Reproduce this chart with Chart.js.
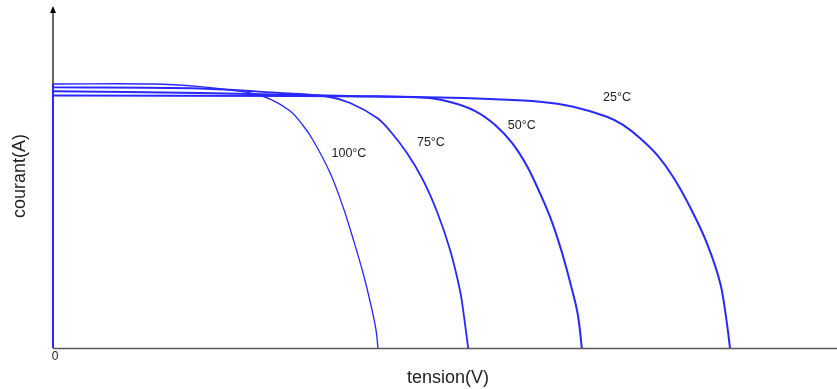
<!DOCTYPE html>
<html>
<head>
<meta charset="utf-8">
<script src="https://cdn.jsdelivr.net/npm/chart.js@4.4.1/dist/chart.umd.min.js"></script>
<style>
    html, body { margin: 0; padding: 0; background: #fff; }
    #wrap { width: 837px; height: 389px; position: relative; }
</style>
</head>
<body>
<div id="wrap"><canvas id="ivChart"></canvas></div>
<script>
// I-V curves (tension in V, courant in A)
const curveNames = ['25°C', '50°C', '75°C', '100°C'];

const volts25 = [0, 6.30, 9.87, 11.15, 12.42, 13.27, 14.13, 14.54, 14.97, 15.41, 15.82, 16.25, 16.68, 17.02, 17.18, 17.27];
const amps25  = [2.97, 2.965, 2.947, 2.929, 2.898, 2.839, 2.721, 2.624, 2.471, 2.271, 2.012, 1.659, 1.235, 0.765, 0.329, 0];

const volts50 = [0, 3.75, 7.58, 9.44, 10.13, 10.77, 11.28, 11.71, 12.09, 12.42, 12.73, 12.98, 13.21, 13.39, 13.49];
const amps50  = [3.02, 3.0, 2.965, 2.947, 2.894, 2.788, 2.624, 2.412, 2.141, 1.824, 1.482, 1.129, 0.741, 0.388, 0];

const volts75 = [0, 3.75, 5.79, 6.99, 7.58, 8.27, 8.60, 9.03, 9.44, 9.80, 10.13, 10.38, 10.48, 10.59];
const amps75  = [3.067, 3.053, 3.0, 2.959, 2.882, 2.706, 2.553, 2.294, 1.976, 1.6, 1.153, 0.682, 0.388, 0];

const volts100 = [0, 2.55, 3.75, 4.52, 5.03, 5.54, 6.05, 6.35, 6.63, 7.07, 7.40, 7.68, 7.91, 8.11, 8.24, 8.29];
const amps100  = [3.106, 3.106, 3.076, 3.035, 3.0, 2.929, 2.788, 2.635, 2.447, 2.059, 1.659, 1.247, 0.882, 0.506, 0.212, 0];

// where each curve name sits (same units as the axes)
const labelVolts = [14.39, 11.96, 9.64, 7.55];
const labelAmps  = [2.95, 2.62, 2.42, 2.29];

const xMax = 20;
const yMax = 4;

function toPoints(xs, ys) {
    return xs.map((x, i) => ({ x: x, y: ys[i] }));
}

const seriesList = [
    toPoints(volts25, amps25),
    toPoints(volts50, amps50),
    toPoints(volts75, amps75),
    toPoints(volts100, amps100)
];
const lineWidths = [2, 2, 1.8, 1.3];

const axesPlugin = {
    id: 'axesPlugin',
    beforeDatasetsDraw(chart) {
        const ctx = chart.ctx;
        const xs = chart.scales.x;
        const ys = chart.scales.y;
        const x0 = xs.getPixelForValue(0);
        const y0 = ys.getPixelForValue(0);
        const top = chart.chartArea.top;

        ctx.save();
        // x axis
        ctx.strokeStyle = '#5a5a5a';
        ctx.lineWidth = 1.5;
        ctx.beginPath();
        ctx.moveTo(x0, y0 + 0.5);
        ctx.lineTo(chart.width, y0 + 0.5);
        ctx.stroke();

        // y axis with arrow
        ctx.strokeStyle = '#000';
        ctx.lineWidth = 1.2;
        ctx.beginPath();
        ctx.moveTo(x0, y0);
        ctx.lineTo(x0, top);
        ctx.stroke();
        ctx.fillStyle = '#000';
        ctx.beginPath();
        ctx.moveTo(x0, top - 2);
        ctx.lineTo(x0 - 3, top + 5);
        ctx.lineTo(x0 + 3, top + 5);
        ctx.closePath();
        ctx.fill();

        // vertical part of the curves at V = 0
        const iscMax = Math.max(amps25[0], amps50[0], amps75[0], amps100[0]);
        ctx.strokeStyle = 'rgb(40,40,255)';
        ctx.lineWidth = 2;
        ctx.beginPath();
        ctx.moveTo(x0, y0);
        ctx.lineTo(x0, ys.getPixelForValue(iscMax));
        ctx.stroke();
        ctx.restore();
    },
    afterDatasetsDraw(chart) {
        const ctx = chart.ctx;
        const xs = chart.scales.x;
        const ys = chart.scales.y;
        const x0 = xs.getPixelForValue(0);
        const y0 = ys.getPixelForValue(0);

        ctx.save();
        ctx.fillStyle = '#222';
        ctx.textAlign = 'center';
        ctx.textBaseline = 'middle';

        ctx.font = '12px "Liberation Sans", Arial, sans-serif';
        ctx.fillText('0', x0 + 2, y0 + 9);

        ctx.font = '12.5px "Liberation Sans", Arial, sans-serif';
        curveNames.forEach((name, i) => {
            ctx.fillText(name, xs.getPixelForValue(labelVolts[i]), ys.getPixelForValue(labelAmps[i]));
        });

        ctx.font = '18px "Liberation Sans", Arial, sans-serif';
        ctx.fillText('tension(V)', 448, 378);

        ctx.translate(20, 176);
        ctx.rotate(-Math.PI / 2);
        ctx.fillText('courant(A)', 0, 0);
        ctx.restore();
    }
};

document.addEventListener('DOMContentLoaded', () => {
    const canvas = document.getElementById('ivChart');

    new Chart(canvas, {
        type: 'scatter',
        data: {
            datasets: seriesList.map((pts, i) => ({
                label: curveNames[i],
                data: pts,
                showLine: true,
                borderColor: 'rgb(40,40,255)',
                borderWidth: lineWidths[i],
                pointRadius: 0,
                tension: 0.35,
                fill: false
            }))
        },
        options: {
            responsive: true,
            maintainAspectRatio: false,
            animation: false,
            layout: {
                padding: { left: 53, top: 8, right: 0, bottom: 41 }
            },
            scales: {
                x: { type: 'linear', min: 0, max: xMax, display: false },
                y: { type: 'linear', min: 0, max: yMax, display: false }
            },
            plugins: {
                legend: { display: false },
                tooltip: { enabled: false }
            }
        },
        plugins: [axesPlugin]
    });
});
</script>
</body>
</html>
